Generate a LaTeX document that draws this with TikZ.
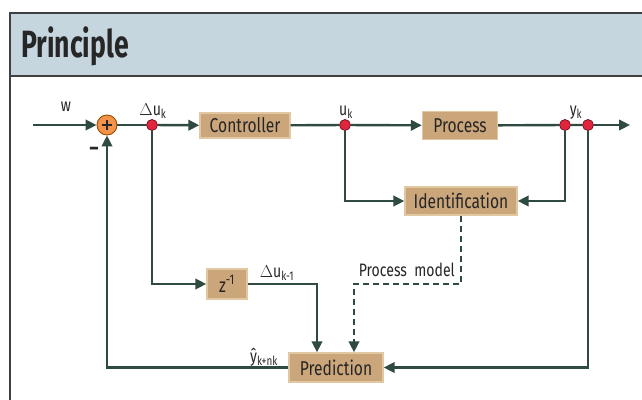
\documentclass[tikz,border=0pt]{standalone}
\usepackage{fontspec}
\setmainfont[FakeStretch=0.78]{Fira Sans}
\newfontfamily\headfont[FakeStretch=0.70]{Fira Sans Bold}
\usetikzlibrary{arrows.meta,calc,positioning}

\definecolor{linegreen}{HTML}{2F4A41}
\definecolor{boxtan}{HTML}{CCA67B}
\definecolor{boxedge}{HTML}{E2C7A3}
\definecolor{sumorange}{HTML}{F2924B}
\definecolor{dotred}{HTML}{E1253D}
\definecolor{headblue}{HTML}{C6D6DF}

\begin{document}
\begin{tikzpicture}[
  x=1pt, y=-1pt,
  font=\fontsize{20}{22}\selectfont,
  block/.style={draw=boxedge, line width=1.4pt, fill=boxtan, inner sep=0pt, text=black!85},
  sumnode/.style={circle, draw=orange!60!black, line width=0.9pt, fill=sumorange, minimum size=20pt, inner sep=0pt},
  tap/.style={circle, draw=dotred!45!black, line width=0.7pt, fill=dotred, minimum size=11pt, inner sep=0pt},
  wire/.style={draw=linegreen, line width=2.4pt},
  flow/.style={wire, -{Triangle[length=11pt,width=10.5pt]}},
  modelflow/.style={flow, dashed, dash pattern=on 6pt off 4pt},
  lbl/.style={font=\fontsize{18}{20}\selectfont, text=black!85, inner sep=0pt}
]
\useasboundingbox (0,0) rectangle (642,399);
\clip (0,0) rectangle (642,399);

% Frame and title bar
\fill[white] (0,0) rectangle (642,399);
\draw[black!75, line width=1.4pt, fill=headblue] (10,13) rectangle (660,76);
\draw[black!75, line width=1.4pt] (10,76) -- (10,420);
\node[anchor=base west, inner sep=0pt, font=\headfont\fontsize{38}{40}\selectfont, text=black!85] (title) at (21,57) {Principle};

% Main loop blocks
\node[sumnode] (sum) at (107,125) {};
\draw[black!85, line width=1.2pt] ([xshift=-5pt]sum.center) -- ([xshift=5pt]sum.center)
  ([yshift=-5pt]sum.center) -- ([yshift=5pt]sum.center);
\node[tap] (du) at (152,125) {};
\node[block, minimum width=90pt, minimum height=25pt] (ctrl) at (245,125.5) {Controller};
\node[tap] (u) at (345,125) {};
\node[block, minimum width=75pt, minimum height=28pt] (proc) at (460,125.5) {Process};
\node[tap] (y) at (565,125) {};
\node[tap] (y2) at (588,125) {};
\coordinate (in) at (33,125);
\coordinate (out) at (630,125);

% Model and prediction blocks
\node[block, minimum width=112pt, minimum height=28pt] (ident) at (461,201) {Identification};
\node[block, minimum width=40pt, minimum height=30pt] (zinv) at (227,284) {z\textsuperscript{-1}};
\node[block, minimum width=94pt, minimum height=29pt] (pred) at (336,367.5) {Prediction};
\coordinate (bend) at (354,284);

% Forward path
\draw[flow] (in) -- (sum);
\draw[wire] (sum) -- (du);
\draw[flow] (du) -- (ctrl);
\draw[wire] (ctrl) -- (u);
\draw[flow] (u) -- (proc);
\draw[wire] (proc) -- (y) -- (y2);
\draw[flow] (y2) -- (out);

% Identification inputs
\draw[flow] (u) |- (ident.west);
\draw[flow] (y) |- (ident.east);

% Prediction inputs
\draw[flow] (du) |- (zinv.west);
\draw[flow] (zinv.east) -| ([xshift=-19pt]pred.north);
\draw[modelflow] (ident.south) |- (bend) -- ([xshift=18pt]pred.north);
\draw[flow] (y2) |- (pred.east);

% Feedback of predicted output
\draw[flow] (pred.west) -| (sum.south);

% Signal labels
\node[lbl] (wlbl) at (66,107) {w};
\node[lbl, font=\fontsize{22}{22}\selectfont\bfseries] (minus) at (94,151) {–};
\node[lbl, anchor=base] (dulbl) at (153,115) {$\Delta$u\textsubscript{k}};
\node[lbl, anchor=base] (ulbl) at (346,115) {u\textsubscript{k}};
\node[lbl, anchor=base] (ylbl) at (576,115) {y\textsubscript{k}};
\node[lbl, anchor=base] (du1lbl) at (277,277) {$\Delta$u\textsubscript{k-1}};
\node[lbl, anchor=base east] (pmlbl) at (455,276) {Process\ \ model};
\node[lbl, anchor=base] (yhatlbl) at (264,362) {\^{y}\textsubscript{k+nk}};
\end{tikzpicture}
\end{document}
